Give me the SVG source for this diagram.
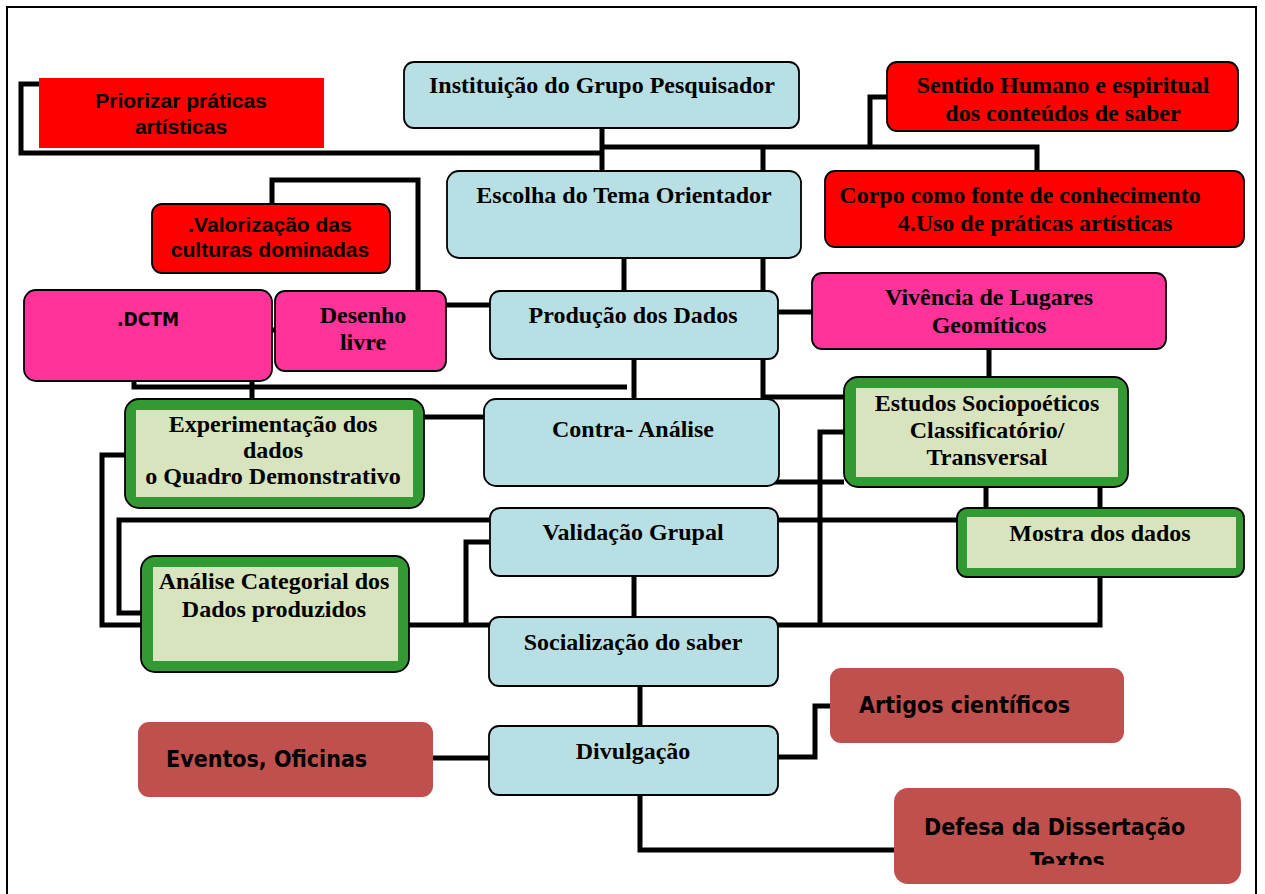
<svg xmlns="http://www.w3.org/2000/svg" width="1265" height="894" viewBox="0 0 1265 894">
<style>
.blue{fill:#B8E0E4;stroke:#000;stroke-width:1.8}
.red{fill:#FF0000;stroke:#000;stroke-width:1.8}
.pink{fill:#FF3399;stroke:#000;stroke-width:1.8}
.green{fill:#339933;stroke:#000;stroke-width:1.8}
.inner{fill:#D7E4BD}
.brown{fill:#C0504D}
.tm{font-family:"Liberation Serif","Times New Roman",serif;font-weight:bold;font-size:24px;fill:#000;text-anchor:middle}
.ar{font-family:"Liberation Sans",Arial,sans-serif;font-weight:bold;font-size:21px;fill:#000;text-anchor:middle}
.cm{font-family:"DejaVu Sans Condensed","DejaVu Sans",sans-serif;font-weight:bold;font-size:23px;fill:#000}
.conn{fill:none;stroke:#000;stroke-width:5}
</style>
<defs>
<clipPath id="defclip"><rect x="894" y="788" width="347" height="77"/></clipPath>
</defs>
<rect x="0" y="0" width="1265" height="894" fill="#fff"/>
<rect x="7" y="7" width="1249" height="900" fill="none" stroke="#000" stroke-width="2"/>

<g id="connectors" class="conn">
<path d="M39,84 H21 V153 H602"/>
<path d="M602,128 V171"/>
<path d="M600,147 H1037 V171"/>
<path d="M870,147 V97 H887"/>
<path d="M763,147 V171"/>
<path d="M624,258 V291"/>
<path d="M763,258 V291"/>
<path d="M763,359 V397 H844"/>
<path d="M778,312 H812"/>
<path d="M989,349 V377"/>
<path d="M272,204 V180 H418 V291"/>
<path d="M270,330 H277"/>
<path d="M446,305 H490"/>
<path d="M134,381 V387 H627"/>
<path d="M252,381 V399"/>
<path d="M634,359 V399"/>
<path d="M424,417 H484"/>
<path d="M125,455 H102 V625 H141"/>
<path d="M409,625 H489"/>
<path d="M466,625 V542 H490"/>
<path d="M141,613 H119 V520 H957"/>
<path d="M773,482 H844"/>
<path d="M844,432 H820 V625"/>
<path d="M778,625 H1100 V577"/>
<path d="M986,487 V508"/>
<path d="M1100,487 V508"/>
<path d="M634,576 V617"/>
<path d="M640,686 V726"/>
<path d="M433,758 H489"/>
<path d="M778,757 H815 V706 H830"/>
<path d="M640,795 V850 H894"/>
</g>

<g id="priorizar">
<rect x="39" y="78" width="285" height="70" fill="#FF0000"/>
<text class="ar" x="181" y="108">Priorizar práticas</text>
<text class="ar" x="181" y="134">artísticas</text>
</g>

<g id="instituicao">
<rect class="blue" x="404" y="62" width="395" height="66" rx="10"/>
<text class="tm" x="602" y="93">Instituição do Grupo Pesquisador</text>
</g>

<g id="sentido">
<rect class="red" x="887" y="62" width="351" height="69" rx="10"/>
<text class="tm" x="1063" y="93">Sentido Humano e espiritual</text>
<text class="tm" x="1063" y="121">dos conteúdos de saber</text>
</g>

<g id="escolha">
<rect class="blue" x="447" y="171" width="354" height="87" rx="12"/>
<text class="tm" x="624" y="203">Escolha do Tema Orientador</text>
</g>

<g id="corpo">
<rect class="red" x="825" y="171" width="419" height="76" rx="10"/>
<text class="tm" x="1020" y="203">Corpo como fonte de conhecimento</text>
<text class="tm" x="1035" y="231">4.Uso de práticas artísticas</text>
</g>

<g id="valorizacao">
<rect class="red" x="152" y="204" width="238" height="69" rx="10"/>
<text class="ar" x="270" y="232">.Valorização das</text>
<text class="ar" x="270" y="257">culturas dominadas</text>
</g>

<g id="dctm">
<rect class="pink" x="24" y="290" width="248" height="91" rx="12"/>
<text class="cm" x="148" y="326" text-anchor="middle" style="font-size:19px">.DCTM</text>
</g>

<g id="desenho">
<rect class="pink" x="275" y="291" width="171" height="80" rx="10"/>
<text class="tm" x="363" y="323">Desenho</text>
<text class="tm" x="363" y="350">livre</text>
</g>

<g id="producao">
<rect class="blue" x="490" y="291" width="288" height="68" rx="10"/>
<text class="tm" x="633" y="323">Produção dos Dados</text>
</g>

<g id="vivencia">
<rect class="pink" x="812" y="273" width="354" height="76" rx="10"/>
<text class="tm" x="989" y="305">Vivência de Lugares</text>
<text class="tm" x="989" y="333">Geomíticos</text>
</g>

<g id="experimentacao">
<rect class="green" x="125" y="399" width="299" height="109" rx="14"/>
<rect class="inner" x="136" y="410" width="277" height="87"/>
<text class="tm" x="273" y="432">Experimentação dos</text>
<text class="tm" x="273" y="458">dados</text>
<text class="tm" x="273" y="484">o Quadro Demonstrativo</text>
</g>

<g id="contra">
<rect class="blue" x="484" y="399" width="295" height="87" rx="12"/>
<text class="tm" x="633" y="437">Contra- Análise</text>
</g>

<g id="estudos">
<rect class="green" x="844" y="377" width="284" height="110" rx="14"/>
<rect class="inner" x="856" y="388" width="262" height="89"/>
<text class="tm" x="987" y="411">Estudos Sociopoéticos</text>
<text class="tm" x="987" y="438">Classificatório/</text>
<text class="tm" x="987" y="465">Transversal</text>
</g>

<g id="validacao">
<rect class="blue" x="490" y="508" width="288" height="68" rx="10"/>
<text class="tm" x="633" y="540">Validação Grupal</text>
</g>

<g id="mostra">
<rect class="green" x="957" y="508" width="287" height="69" rx="10"/>
<rect class="inner" x="967" y="517" width="269" height="51"/>
<text class="tm" x="1100" y="541">Mostra dos dados</text>
</g>

<g id="analise">
<rect class="green" x="141" y="556" width="268" height="116" rx="14"/>
<rect class="inner" x="153" y="567" width="245" height="94"/>
<text class="tm" x="274" y="589">Análise Categorial dos</text>
<text class="tm" x="274" y="617">Dados produzidos</text>
</g>

<g id="socializacao">
<rect class="blue" x="489" y="617" width="289" height="69" rx="10"/>
<text class="tm" x="633" y="650">Socialização do saber</text>
</g>

<g id="artigos">
<rect class="brown" x="830" y="668" width="294" height="75" rx="11"/>
<text class="cm" x="859" y="713">Artigos científicos</text>
</g>

<g id="eventos">
<rect class="brown" x="138" y="722" width="295" height="75" rx="11"/>
<text class="cm" x="166" y="767">Eventos, Oficinas</text>
</g>

<g id="divulgacao">
<rect class="blue" x="489" y="726" width="289" height="69" rx="10"/>
<text class="tm" x="633" y="759">Divulgação</text>
</g>

<g id="defesa">
<rect class="brown" x="894" y="788" width="347" height="96" rx="14"/>
<g clip-path="url(#defclip)">
<text class="cm" x="924" y="835">Defesa da Dissertação</text>
<text class="cm" x="1030" y="869">Textos</text>
</g>
</g>
</svg>
